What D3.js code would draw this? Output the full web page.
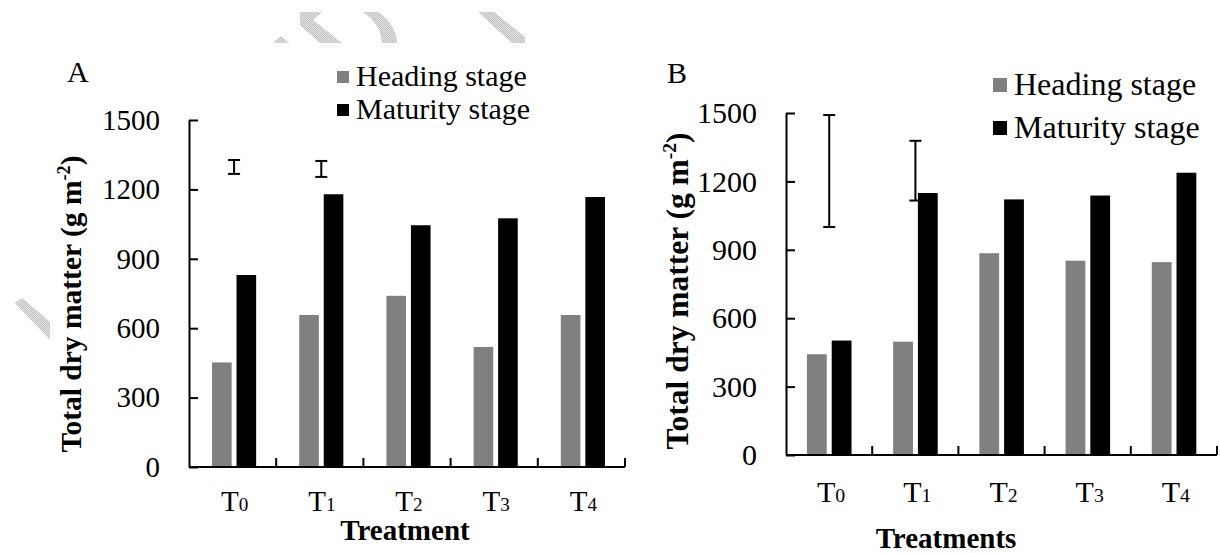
<!DOCTYPE html>
<html>
<head>
<meta charset="utf-8">
<script src="https://cdn.jsdelivr.net/npm/d3@7/dist/d3.min.js"></script>
<style>
  html, body { margin: 0; padding: 0; background: #ffffff; }
  svg { display: block; }
  text { font-family: "Liberation Serif", "Times New Roman", serif; fill: #000; }
</style>
</head>
<body>
<svg id="chart" width="1220" height="553"></svg>
<script>
// ---------------- data ----------------
const categories = ["T0", "T1", "T2", "T3", "T4"];
const categoryBase = ["T", "T", "T", "T", "T"];
const categorySub = ["0", "1", "2", "3", "4"];
const seriesNames = ["Heading stage", "Maturity stage"];
const headingA = [452, 657, 740, 519, 657];
const maturityA = [830, 1179, 1045, 1075, 1167];
const headingB = [442, 497, 885, 852, 846];
const maturityB = [502, 1149, 1121, 1138, 1238];
const errCatsA = ["T0", "T1"];
const errLowA = [1267, 1254];
const errHighA = [1327, 1323];
const errCatsB = ["T0", "T1"];
const errLowB = [1000, 1116];
const errHighB = [1491, 1378];
const yTicks = [0, 300, 600, 900, 1200, 1500];
const xTitleA = "Treatment";
const xTitleB = "Treatments";
const yTitle = "Total dry matter (g m";

// ---------------- styles ----------------
const colors = { "Heading stage": "#808080", "Maturity stage": "#000000" };
const svg = d3.select("#chart");

// watermark pattern
const defs = svg.append("defs");
const pat = defs.append("pattern").attr("id", "dots").attr("width", 2).attr("height", 2)
  .attr("patternUnits", "userSpaceOnUse");
pat.append("rect").attr("width", 2).attr("height", 2).attr("fill", "#e6e6e6");
pat.append("rect").attr("width", 1).attr("height", 1).attr("fill", "#bdbdbd");
pat.append("rect").attr("x", 1).attr("y", 1).attr("width", 1).attr("height", 1).attr("fill", "#bdbdbd");

const wm = svg.append("g").attr("class", "watermark").attr("fill", "url(#dots)");
wm.append("path").attr("d", "M273,43 L281,36 L289,43 Z");
wm.append("path").attr("d", "M300,12 L322,12 L313,20 L342,43 L320,43 L300,25 Z");
wm.append("path").attr("d", "M363,12 L378,12 C390,20 397,32 397,43 L382,43 C382,32 375,20 363,12 Z");
wm.append("path").attr("d", "M478,12 L494,12 L525,37 L525,43 L512,43 Z");
wm.append("path").attr("d", "M15,303 L22,298 L50,322 L50,340 Z");

function drawPanel(o) {
  const g = svg.append("g");
  const y = d3.scaleLinear().domain([0, 1500]).range([o.y0, o.y1]);
  const x = d3.scaleBand().domain(categories).range([o.x0, o.x1]).paddingInner(0).paddingOuter(0);
  const bw = x.bandwidth();
  const xs = d3.scaleBand().domain(seriesNames).range([bw * o.gs, bw * o.ge]).paddingInner(0.2).paddingOuter(0);

  const rows = categories.map((c, i) => ({ c, vals: [o.heading[i], o.maturity[i]] }));
  const grp = g.selectAll("g.cat").data(rows).join("g").attr("class", "cat")
    .attr("transform", d => `translate(${x(d.c)},0)`);
  grp.selectAll("rect").data(d => seriesNames.map((s, k) => ({ s, v: d.vals[k] }))).join("rect")
    .attr("x", d => xs(d.s))
    .attr("width", xs.bandwidth())
    .attr("y", d => y(d.v))
    .attr("height", d => y(0) - y(d.v))
    .attr("fill", d => colors[d.s]);

  // y axis
  const ya = d3.axisLeft(y).tickValues(yTicks).tickFormat(d3.format("d"))
    .tickSizeInner(-9).tickSizeOuter(0).tickPadding(o.tickPad);
  const yg = g.append("g").attr("transform", `translate(${o.x0},0)`).call(ya);
  yg.select(".domain").attr("stroke", "#000").attr("stroke-width", 2);
  yg.selectAll(".tick line").attr("stroke", "#000").attr("stroke-width", 2);
  yg.selectAll(".tick text").attr("font-family", "Liberation Serif").attr("font-size", o.tickFont).attr("fill", "#000");

  // x axis baseline and separators
  g.append("line").attr("x1", o.x0).attr("x2", o.x1).attr("y1", y(0)).attr("y2", y(0))
    .attr("stroke", "#000").attr("stroke-width", 2);
  const seps = categories.slice(1).map(c => x(c)).concat([o.x1]);
  g.selectAll("line.sep").data(seps).join("line").attr("class", "sep")
    .attr("x1", d => d).attr("x2", d => d).attr("y1", y(0)).attr("y2", y(0) - 9)
    .attr("stroke", "#000").attr("stroke-width", 2);

  // x labels
  const xl = g.selectAll("text.xl").data(categories).join("text").attr("class", "xl")
    .attr("x", d => x(d) + bw / 2 + 2).attr("y", o.xLabelY)
    .attr("text-anchor", "middle").attr("font-size", o.tickFont);
  xl.append("tspan").text((d, i) => categoryBase[i]);
  xl.append("tspan").attr("font-size", o.tickFont * 0.66).text((d, i) => categorySub[i]);

  // error bars
  const ex = d => x(d) + bw * (o.gs + o.ge) / 2;
  const eb = g.selectAll("g.err").data(o.errCats.map((c, i) => ({ c, lo: o.errLow[i], hi: o.errHigh[i] })))
    .join("g").attr("class", "err").attr("stroke", "#000").attr("stroke-width", 2);
  eb.append("line").attr("x1", d => ex(d.c)).attr("x2", d => ex(d.c)).attr("y1", d => y(d.lo)).attr("y2", d => y(d.hi));
  eb.append("line").attr("x1", d => ex(d.c) - o.cap).attr("x2", d => ex(d.c) + o.cap).attr("y1", d => y(d.lo)).attr("y2", d => y(d.lo));
  eb.append("line").attr("x1", d => ex(d.c) - o.cap).attr("x2", d => ex(d.c) + o.cap).attr("y1", d => y(d.hi)).attr("y2", d => y(d.hi));

  // y title
  const yt = g.append("text").attr("transform", `translate(${o.yTitleX},${o.yTitleY}) rotate(-90)`)
    .attr("text-anchor", "middle").attr("font-weight", "bold").attr("font-size", o.yTitleFont);
  yt.append("tspan").text(yTitle);
  yt.append("tspan").attr("font-size", o.yTitleFont * 0.62).attr("dy", -o.yTitleFont * 0.38).text("-2");
  yt.append("tspan").attr("dy", o.yTitleFont * 0.38).text(")");

  // x title
  g.append("text").attr("x", o.xTitleX).attr("y", o.xTitleY).attr("text-anchor", "middle")
    .attr("font-weight", "bold").attr("font-size", o.xTitleFont).text(o.xTitle);

  // panel letter
  g.append("text").attr("x", o.letterX).attr("y", o.letterY).attr("font-size", 30).text(o.letter);

  // legend
  const lg = g.selectAll("g.leg").data(seriesNames).join("g").attr("class", "leg")
    .attr("transform", (d, i) => `translate(${o.legX},${o.legY + i * o.legStep})`);
  lg.append("rect").attr("x", 0).attr("y", -o.legSq - 3).attr("width", o.legSq).attr("height", o.legSq)
    .attr("fill", d => colors[d]);
  lg.append("text").attr("x", o.legSq + 7).attr("y", 0).attr("font-size", o.legFont).text(d => d);
}

drawPanel({
  letter: "A", letterX: 67, letterY: 82,
  x0: 189, x1: 625, y0: 467, y1: 120, gs: 0.264, ge: 0.77,
  heading: headingA, maturity: maturityA,
  errCats: errCatsA, errLow: errLowA, errHigh: errHighA, cap: 6,
  tickPad: 29, tickFont: 29, xLabelY: 511,
  yTitleX: 81, yTitleY: 304, yTitleFont: 29.5,
  xTitle: xTitleA, xTitleX: 405, xTitleY: 540, xTitleFont: 29,
  legX: 337, legY: 86, legStep: 33, legSq: 12, legFont: 30
});

drawPanel({
  letter: "B", letterX: 667, letterY: 83,
  x0: 786, x1: 1217, y0: 455, y1: 113, gs: 0.243, ge: 0.76,
  heading: headingB, maturity: maturityB,
  errCats: errCatsB, errLow: errLowB, errHigh: errHighB, cap: 6,
  tickPad: 29, tickFont: 30, xLabelY: 502,
  yTitleX: 688, yTitleY: 291, yTitleFont: 31.5,
  xTitle: xTitleB, xTitleX: 946, xTitleY: 548, xTitleFont: 29,
  legX: 993, legY: 95, legStep: 43, legSq: 14, legFont: 32
});
</script>
</body>
</html>
